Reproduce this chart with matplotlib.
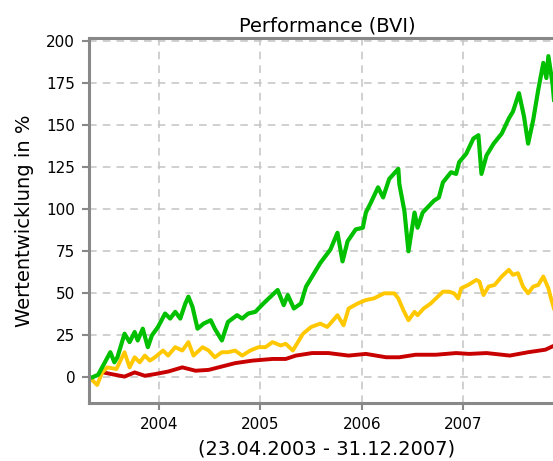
import matplotlib
matplotlib.use('Agg')
import matplotlib.pyplot as plt

# Werte (Zeit in Dezimaljahren, Wert in %)
gruen_t = [2003.31, 2003.34, 2003.40, 2003.52, 2003.56, 2003.59, 2003.66, 2003.71, 2003.76, 2003.79,
           2003.84, 2003.89, 2003.93, 2003.99, 2004.06, 2004.11, 2004.16, 2004.21, 2004.26, 2004.29,
           2004.33, 2004.38, 2004.44, 2004.51, 2004.55, 2004.62, 2004.68, 2004.77, 2004.82, 2004.88,
           2004.95, 2005.03, 2005.10, 2005.17, 2005.23, 2005.27, 2005.33, 2005.40, 2005.45, 2005.53,
           2005.59, 2005.69, 2005.76, 2005.81, 2005.86, 2005.94, 2006.01, 2006.04, 2006.09, 2006.16,
           2006.21, 2006.27, 2006.36, 2006.37, 2006.42, 2006.46, 2006.52, 2006.55, 2006.60, 2006.71,
           2006.76, 2006.80, 2006.88, 2006.93, 2006.96, 2007.03, 2007.10, 2007.15, 2007.18, 2007.23,
           2007.30, 2007.38, 2007.45, 2007.49, 2007.55, 2007.60, 2007.64, 2007.69, 2007.74, 2007.79,
           2007.82, 2007.84, 2007.88, 2007.90]
gruen_v = [0, 0, 1.6, 15, 9, 12, 26, 21, 27, 22,
           29, 18, 25, 30, 38, 35, 39, 35, 44, 48,
           42, 29, 32, 34, 29, 22, 33, 37, 35, 38,
           39, 44, 48, 52, 43, 49, 41, 44, 54, 62,
           68, 76, 86, 69, 81, 88, 89, 98, 104, 113,
           107, 118, 124, 115, 99, 75, 98, 89, 98, 105,
           107, 116, 122, 121, 128, 133, 142, 144, 121, 132,
           139, 145, 154, 158, 169, 155, 139, 153, 171, 187,
           178, 191, 175, 162]

gelb_t = [2003.31, 2003.34, 2003.39, 2003.44, 2003.49, 2003.58, 2003.66, 2003.71, 2003.76, 2003.81,
          2003.86, 2003.91, 2003.96, 2004.04, 2004.09, 2004.16, 2004.23, 2004.29, 2004.34, 2004.43,
          2004.49, 2004.55, 2004.62, 2004.68, 2004.75, 2004.82, 2004.90, 2004.98, 2005.05, 2005.12,
          2005.20, 2005.25, 2005.32, 2005.42, 2005.50, 2005.59, 2005.66, 2005.76, 2005.82, 2005.87,
          2005.96, 2006.04, 2006.12, 2006.22, 2006.32, 2006.36, 2006.41, 2006.46, 2006.52, 2006.55,
          2006.61, 2006.68, 2006.80, 2006.86, 2006.91, 2006.95, 2006.98, 2007.05, 2007.13, 2007.16,
          2007.20, 2007.25, 2007.31, 2007.38, 2007.45, 2007.49, 2007.54, 2007.59, 2007.64, 2007.69,
          2007.74, 2007.79, 2007.84, 2007.87, 2007.90]
gelb_v = [0, -1.5, -4.5, 3, 6, 5, 15, 6, 12, 9,
          13, 10, 12, 16, 13, 18, 16, 21, 13, 18,
          16, 12, 15, 15, 16, 13, 16, 18, 18, 21,
          19, 20, 16, 26, 30, 32, 30, 37, 31, 41,
          44, 46, 47, 50, 50, 47, 40, 34, 39, 37,
          41, 44, 51, 51, 50, 47, 53, 55, 58, 57,
          49, 54, 55, 60, 64, 61, 62, 54, 50, 54,
          55, 60, 53, 46, 40]

rot_t = [2003.45, 2003.53, 2003.66, 2003.76, 2003.86, 2003.96, 2004.09, 2004.23, 2004.36, 2004.49,
         2004.62, 2004.75, 2004.92, 2005.12, 2005.25, 2005.35, 2005.51, 2005.67, 2005.87, 2006.04,
         2006.24, 2006.37, 2006.53, 2006.73, 2006.93, 2007.06, 2007.23, 2007.46, 2007.64, 2007.81,
         2007.90]
rot_v = [3, 2, 0.5, 3, 1, 2, 3.5, 6, 4, 4.5,
         6.5, 8.5, 10, 11, 11, 13, 14.5, 14.5, 13, 14,
         12, 12, 13.5, 13.5, 14.5, 14, 14.5, 13, 15, 16.5,
         19]

jahre = [2004, 2005, 2006, 2007]
y_ticks = [0, 25, 50, 75, 100, 125, 150, 175, 200]

plt.rcParams['font.family'] = ['DejaVu Sans']

fig = plt.figure(figsize=(5.53, 4.61), dpi=100)
ax = fig.add_axes([0.161, 0.1265, 0.86, 0.79])

ax.plot(rot_t, rot_v, color='#c80000', lw=2.8, solid_joinstyle='round')
ax.plot(gelb_t, gelb_v, color='#ffc800', lw=2.8, solid_joinstyle='round')
ax.plot(gruen_t, gruen_v, color='#00c000', lw=3.0, solid_joinstyle='round')

ax.set_xlim(2003.31, 2008.0)
ax.set_ylim(-15, 201.5)
ax.set_xticks(jahre)
ax.set_xticklabels([str(j) for j in jahre])
ax.set_yticks(y_ticks)

ax.grid(True, color='#c4c4c4', linestyle=(0, (5, 4)), linewidth=1.1)
ax.set_axisbelow(True)

for s in ['left', 'bottom', 'top']:
    ax.spines[s].set_color('#888888')
    ax.spines[s].set_linewidth(2.2)
ax.spines['right'].set_visible(False)
ax.tick_params(direction='out', length=5, width=1.5, color='#888888', labelsize=11, pad=5)

ax.set_title('Performance (BVI)', fontsize=14, pad=5)
ax.set_ylabel('Wertentwicklung in %', fontsize=14, labelpad=9)
ax.set_xlabel('(23.04.2003 - 31.12.2007)', fontsize=14, labelpad=6)

fig.savefig('out.png', dpi=100)
